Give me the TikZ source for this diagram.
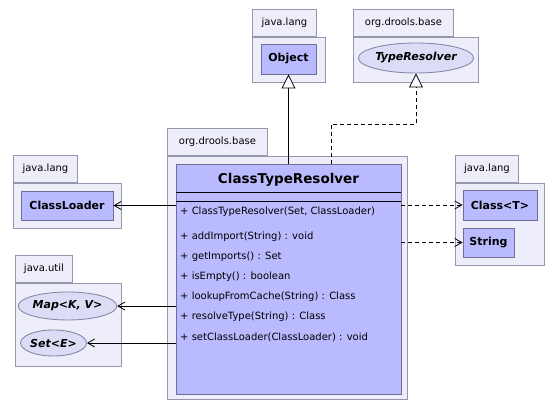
\documentclass[tikz,border=0pt]{standalone}
\usepackage{fontspec}
\setmainfont{DejaVu Sans}
\usepackage{tikz}
\usetikzlibrary{shapes.geometric, arrows.meta, positioning, calc}

\definecolor{pkgfill}{RGB}{238,238,250}
\definecolor{pkgline}{RGB}{150,150,172}
\definecolor{clsfill}{RGB}{186,186,255}
\definecolor{clsline}{RGB}{110,110,150}
\definecolor{ifcfill}{RGB}{220,220,246}
\definecolor{ifcline}{RGB}{136,136,172}

\tikzset{
    pkg/.style={draw=pkgline, fill=pkgfill, line width=0.9pt},
    pkgtab/.style={draw=pkgline, fill=pkgfill, line width=0.9pt, inner sep=0pt,
        minimum height=27pt, font=\fontsize{10}{12}\selectfont},
    cls/.style={draw=clsline, fill=clsfill, line width=0.9pt, inner sep=0pt,
        font=\bfseries\fontsize{11}{13}\selectfont},
    ifc/.style={ellipse, draw=ifcline, fill=ifcfill, line width=0.9pt, inner sep=0pt,
        font=\bfseries\itshape\fontsize{11}{13}\selectfont},
    member/.style={anchor=west, inner sep=0pt, font=\fontsize{10}{12}\selectfont},
    dep/.style={-{Straight Barb[length=7pt,width=8pt]}, line width=0.8pt},
    gen/.style={-{Triangle[length=14pt,width=14pt,fill=white]}, line width=0.8pt},
}

\begin{document}
\begin{tikzpicture}[x=1pt, y=-1pt]
        \useasboundingbox[fill=white] (0,0) rectangle (560,403);

        % Packages
        \draw[pkg] (252,37) rectangle (325,82);
        \node[pkgtab, anchor=south west, minimum width=64pt] (tabobj) at (252,37) {java.lang};
        \draw[pkg] (353,37) rectangle (478,82);
        \node[pkgtab, anchor=south west, minimum width=100pt] (tabres) at (353,37) {org.drools.base};
        \draw[pkg] (167,156) rectangle (407,399);
        \node[pkgtab, anchor=south west, minimum width=100pt] (tabmain) at (167,156) {org.drools.base};
        \draw[pkg] (13,183) rectangle (121,228);
        \node[pkgtab, anchor=south west, minimum width=64pt] (tabloader) at (13,183) {java.lang};
        \draw[pkg] (15,283) rectangle (121,366);
        \node[pkgtab, anchor=south west, minimum width=57pt] (tabutil) at (15,283) {java.util};
        \draw[pkg] (455,183) rectangle (544,265);
        \node[pkgtab, anchor=south west, minimum width=63pt] (tablang) at (455,183) {java.lang};

        % Classes and interfaces
        \node[cls, minimum width=55pt, minimum height=30pt] (obj) at (288.5,59) {Object};
        \node[ifc, minimum width=110pt, minimum height=30pt] (tres) at (416,58) {TypeResolver};
        \node[cls, minimum width=92pt, minimum height=29pt] (loader) at (67,205.5) {ClassLoader};
        \node[ifc, minimum width=89pt, minimum height=28pt] (map) at (67.5,306) {Map<K, V>};
        \node[ifc, minimum width=61pt, minimum height=26pt] (set) at (53.5,343) {Set<E>};
        \node[cls, minimum width=74pt, minimum height=30pt] (classT) at (500,205) {Class<T>};
        \node[cls, minimum width=51pt, minimum height=29pt] (string) at (488.5,242.5) {String};

        % ClassTypeResolver
        \node[cls, minimum width=225pt, minimum height=230pt] (ctr) at (288.5,279) {};
        \node[font=\bfseries\fontsize{13.5}{15}\selectfont] (title) at (288.5,180) {ClassTypeResolver};
        \draw[line width=0.9pt] (ctr.west |- 0,192) -- (ctr.east |- 0,192);
        \draw[line width=0.9pt] (ctr.west |- 0,201) -- (ctr.east |- 0,201);
        \node[member] (m0) at (180,212) {+ ClassTypeResolver(Set, ClassLoader)};
        \node[member] (m1) at (180,237) {+ addImport(String) : void};
        \node[member] (m2) at (180,257) {+ getImports() : Set};
        \node[member] (m3) at (180,277) {+ isEmpty() : boolean};
        \node[member] (m4) at (180,297) {+ lookupFromCache(String) : Class};
        \node[member] (m5) at (180,317) {+ resolveType(String) : Class};
        \node[member] (m6) at (180,337) {+ setClassLoader(ClassLoader) : void};

        % Inheritance
        \draw[gen] (ctr.north) -- (obj.south);
        \coordinate (bend) at (331,124);
        \draw[gen, dash pattern=on 4pt off 3pt] (bend |- ctr.north) -- (bend) -| (tres.south);

        % Dependencies
        \draw[dep] (ctr.west |- loader) -- (loader.east);
        \draw[dep] (ctr.west |- map) -- (map.east);
        \draw[dep] (ctr.west |- set) -- (set.east);
        \draw[dep, dash pattern=on 4pt off 3pt] (ctr.east |- classT) -- (classT.west);
        \draw[dep, dash pattern=on 4pt off 3pt] (ctr.east |- string) -- (string.west);
    \end{tikzpicture}
\end{document}
